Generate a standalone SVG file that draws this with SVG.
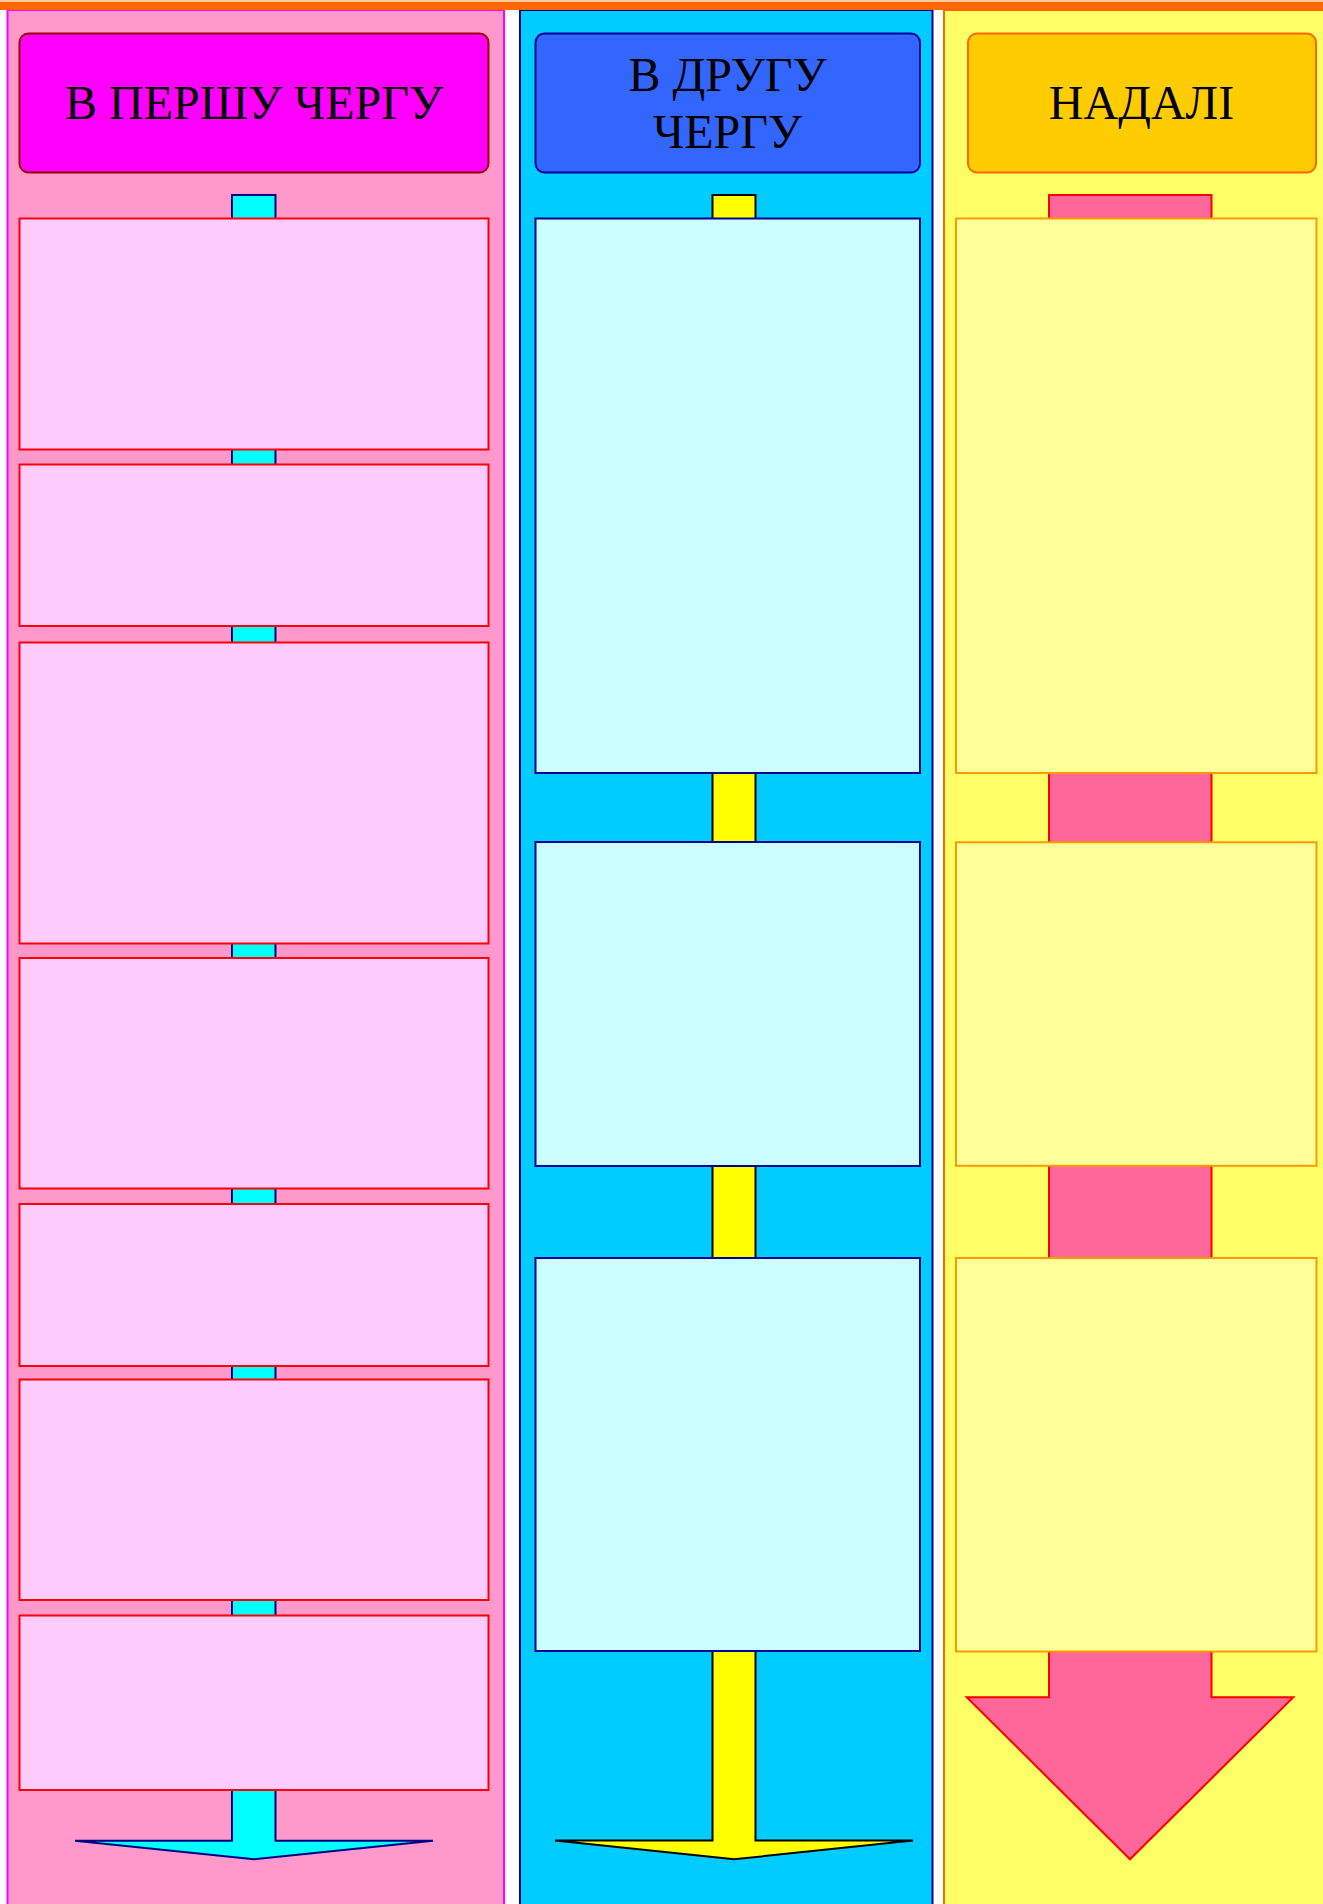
<svg xmlns="http://www.w3.org/2000/svg" width="1323" height="1904" viewBox="0 0 1323 1904">
<style>
.hdr{font-family:"Liberation Serif","Times New Roman",serif;font-size:48px;fill:#000;text-anchor:middle}
.b1{fill:#FFCCFF;stroke:#FF0000;stroke-width:2}
.b2{fill:#CCFFFF;stroke:#000099;stroke-width:2}
.b3{fill:#FFFF99;stroke:#FF9900;stroke-width:2}
</style>
<rect x="0" y="0" width="1323" height="1904" fill="#FFFFFF"/>
<g id="columns">
<rect x="7.5" y="10" width="496.5" height="1910" fill="#FF99CC" stroke="#FF00FF" stroke-width="2"/>
<rect x="520" y="10" width="412.5" height="1910" fill="#00CCFF" stroke="#000099" stroke-width="2"/>
<rect x="944" y="10" width="390" height="1910" fill="#FFFF66" stroke="#FF6600" stroke-width="2"/>
</g>
<rect x="0" y="0" width="1323" height="10" fill="#FF6600"/>
<rect x="0" y="0" width="1323" height="2" fill="#FFCC99"/>
<g id="connectors">
<polygon points="232,195 275.5,195 275.5,1840.7 433,1840.7 254,1859.3 75,1840.7 232,1840.7" fill="#00FFFF" stroke="#000080" stroke-width="2" stroke-linejoin="miter"/>
<polygon points="712.5,195 755.5,195 755.5,1840.5 913,1840.5 734,1859.3 555,1840.5 712.5,1840.5" fill="#FFFF00" stroke="#000000" stroke-width="2"/>
<polygon points="1049,195 1211.5,195 1211.5,1697.3 1293.3,1697.3 1130,1859.3 966.7,1697.3 1049,1697.3" fill="#FF6699" stroke="#FF0000" stroke-width="2"/>
</g>
<g id="header1"><rect x="19.5" y="33.5" width="469" height="139" rx="9" fill="#FF00FF" stroke="#990000" stroke-width="2"/><text class="hdr" x="254" y="119">В ПЕРШУ ЧЕРГУ</text></g>
<g id="header2"><rect x="535.5" y="33.5" width="384.5" height="139" rx="9" fill="#3366FF" stroke="#000099" stroke-width="2"/><text class="hdr" x="727.5" y="90.5">В ДРУГУ</text><text class="hdr" x="727.5" y="148.3">ЧЕРГУ</text></g>
<g id="header3"><rect x="968" y="33.5" width="348" height="139" rx="9" fill="#FFCC00" stroke="#FF6600" stroke-width="2"/><text class="hdr" x="1141.5" y="119">НАДАЛІ</text></g>
<g id="col1-box1"><rect class="b1" x="19.5" y="218.5" width="469" height="231"/></g>
<g id="col1-box2"><rect class="b1" x="19.5" y="464.5" width="469" height="161.5"/></g>
<g id="col1-box3"><rect class="b1" x="19.5" y="642.5" width="469" height="301"/></g>
<g id="col1-box4"><rect class="b1" x="19.5" y="958" width="469" height="230.5"/></g>
<g id="col1-box5"><rect class="b1" x="19.5" y="1204" width="469" height="162"/></g>
<g id="col1-box6"><rect class="b1" x="19.5" y="1379.5" width="469" height="220.5"/></g>
<g id="col1-box7"><rect class="b1" x="19.5" y="1615.5" width="469" height="174.5"/></g>
<g id="col2-box1"><rect class="b2" x="535.5" y="218.5" width="384.5" height="554.5"/></g>
<g id="col2-box2"><rect class="b2" x="535.5" y="842" width="384.5" height="324"/></g>
<g id="col2-box3"><rect class="b2" x="535.5" y="1258" width="384.5" height="393"/></g>
<g id="col3-box1"><rect class="b3" x="956" y="218.5" width="360.5" height="554.5"/></g>
<g id="col3-box2"><rect class="b3" x="956" y="842.3" width="360.5" height="323.5"/></g>
<g id="col3-box3"><rect class="b3" x="956" y="1258" width="360.5" height="393.5"/></g>
</svg>
